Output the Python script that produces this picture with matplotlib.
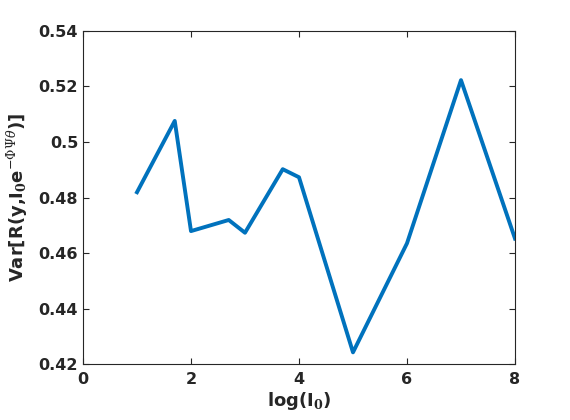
import numpy as np
import matplotlib
matplotlib.use('Agg')
import matplotlib.pyplot as plt

plt.rcParams['mathtext.fontset'] = 'dejavuserif'

# data
log_I0 = [1, 1.699, 2, 2.699, 3, 3.699, 4, 5, 6, 7, 8]
var_R = [0.4819, 0.5076, 0.4679, 0.4719, 0.4673, 0.4902, 0.4873, 0.4242, 0.4635, 0.5223, 0.4652]

fig = plt.figure(figsize=(5.7, 4.2), dpi=100)
ax = fig.add_axes([0.1456, 0.1333, 0.7579, 0.7929])
ax.plot(log_I0, var_R, color='#0072BD', linewidth=2.8)

ax.set_xlim(0, 8)
ax.set_ylim(0.42, 0.54)
ax.set_xticks([0, 2, 4, 6, 8])
ax.set_yticks([0.42, 0.44, 0.46, 0.48, 0.5, 0.52, 0.54])
ax.set_yticklabels(['0.42', '0.44', '0.46', '0.48', '0.5', '0.52', '0.54'])
ax.tick_params(direction='in', top=True, right=True, length=4, width=0.8,
               labelsize=11.5, colors='#262626')
ax.tick_params(axis='x', pad=6)
for lab in ax.get_xticklabels() + ax.get_yticklabels():
    lab.set_fontweight('bold')
for sp in ax.spines.values():
    sp.set_color('#262626')
    sp.set_linewidth(0.8)

ax.set_xlabel(r'log(I$_\mathbf{0}$)', fontsize=13, fontweight='bold', color='#262626',
              labelpad=2)
ax.set_ylabel(r'Var[R(y,I$_\mathbf{0}$e$^{-\Phi\Psi\theta}$)]', fontsize=13,
              fontweight='bold', color='#262626', labelpad=6)

plt.savefig('out.png')
